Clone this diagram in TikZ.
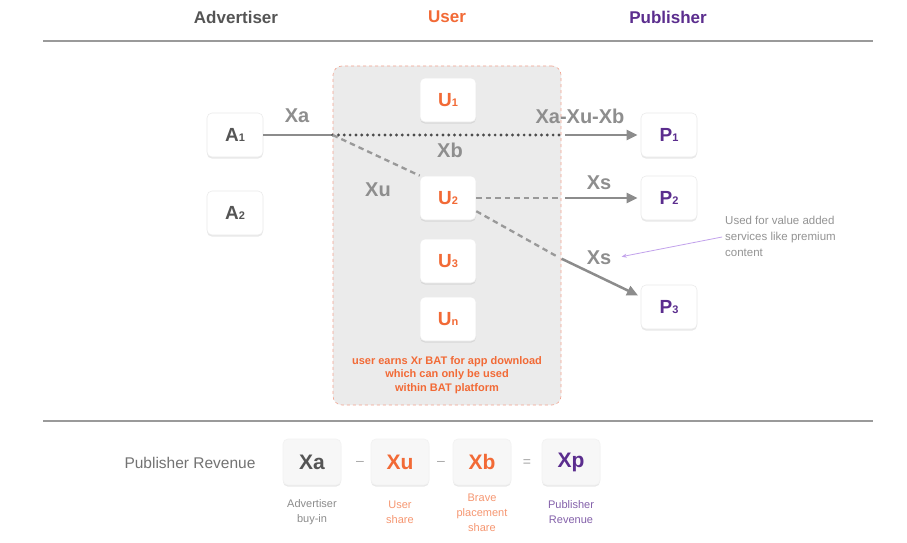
\documentclass[tikz,border=0pt]{standalone}
\usepackage{fontspec}
\setmainfont{Liberation Sans}
\usetikzlibrary{arrows.meta,positioning,shadows}
\definecolor{advc}{HTML}{555555}
\definecolor{usrc}{HTML}{F26A36}
\definecolor{pubc}{HTML}{5B2D8E}
\definecolor{lblc}{HTML}{8E8E8E}
\definecolor{rulec}{HTML}{9A9A9A}
\definecolor{regc}{HTML}{EBEBEB}
\definecolor{regb}{HTML}{F2A490}
\definecolor{notec}{HTML}{C2A2EC}
\newcommand\idx[1]{{\fontsize{11}{11}\selectfont #1}}

\begin{document}
\begin{tikzpicture}[x=1pt,y=-1pt,
					hdr/.style={font=\fontsize{17}{17}\selectfont\bfseries},
					box/.style={fill=white, draw=black!8, line width=0.6pt, rounded corners=5pt, minimum width=56pt, minimum height=44pt, inner sep=0pt,
						font=\fontsize{19}{19}\selectfont\bfseries,
						drop shadow={opacity=0.18, shadow xshift=0pt, shadow yshift=-1.6pt}},
					sbox/.style={box, fill=black!3, draw=black!5, minimum width=58pt, minimum height=46pt, font=\fontsize{21}{21}\selectfont\bfseries},
					lbl/.style={text=lblc, font=\fontsize{20}{20}\selectfont\bfseries},
					capt/.style={align=center, font=\fontsize{11}{15}\selectfont},
					rule/.style={draw=rulec, line width=1.2pt},
					ln/.style={draw=black!45, line width=2.5pt},
					arr/.style={ln, -{Triangle[length=11pt,width=10pt]}, shorten <=4pt, shorten >=3pt},
					dsh/.style={draw=black!40, line width=2.3pt, dash pattern=on 5.5pt off 4pt},
					dots/.style={draw=black!70, line width=3.2pt, line cap=round, dash pattern=on 0pt off 5.8pt}]
				\fill[white] (0,0) rectangle (907,543);
				\useasboundingbox (0,0) rectangle (907,543);
				\node[hdr, text=advc] (ha) at (236,17) {Advertiser};
				\node[hdr, text=usrc] (hu) at (447,17) {User};
				\node[hdr, text=pubc] (hp) at (668,17) {Publisher};
				\draw[rule] (43,41) -- (873,41);
				\draw[rule] (43,421) -- (873,421);
				\node[draw=regb, fill=regc, dashed, line width=0.6pt, rounded corners=9pt, minimum width=228pt, minimum height=339pt] (reg) at (447,235.5) {};
				\node[box, text=advc] (a1) at (235,135) {A\idx{1}};
				\node[box, text=advc] (a2) at (235,213) {A\idx{2}};
				\node[box, text=usrc] (u1) at (448,100) {U\idx{1}};
				\node[box, text=usrc] (u2) at (448,198) {U\idx{2}};
				\node[box, text=usrc] (u3) at (448,261) {U\idx{3}};
				\node[box, text=usrc] (un) at (448,319) {U\idx{n}};
				\node[box, text=pubc] (p1) at (669,135) {P\idx{1}};
				\node[box, text=pubc] (p2) at (669,198) {P\idx{2}};
				\node[box, text=pubc] (p3) at (669,307) {P\idx{3}};
				\node[text=usrc, align=center, font=\fontsize{11}{13.5}\selectfont\bfseries] (earn) at (447,375)
					{user earns Xr BAT for app download\\which can only be used\\within BAT platform};
				\coordinate (j1) at (reg.west |- a1);
				\coordinate (e1) at (reg.east |- a1);
				\coordinate (e2) at (reg.east |- u2);
				\coordinate (e3) at (558,257);
				\draw[ln] (a1) -- (j1);
				\draw[dots] (j1) -- (e1);
				\draw[arr] (e1) -- (p1);
				\draw[dsh] (j1) -- (u2.north west);
				\draw[dsh] (u2) -- (e2);
				\draw[arr] (e2) -- (p2);
				\draw[dsh] (u2.-25) -- (e3);
				\draw[arr] (e3) -- (p3.160);
				\node[lbl] (xa) at (297,116) {Xa};
				\node[lbl] (xb) at (450,150) {Xb};
				\node[lbl] (xu) at (378,190) {Xu};
				\node[lbl] (xr) at (580,116) {Xa-Xu-Xb};
				\node[lbl] (xs1) at (599,183) {Xs};
				\node[lbl] (xs2) at (599,258) {Xs};
				\node[text=black!42, align=left, anchor=north west, inner sep=0pt, font=\fontsize{11.5}{16}\selectfont] (note) at (725,216)
					{Used for value added\\services like premium\\content};
				\draw[notec, line width=0.8pt, -{Stealth[length=5pt,width=4pt]}, shorten <=3pt, shorten >=7pt] (note.west) -- (xs2.east);
				\node[text=black!55, font=\fontsize{15.5}{16}\selectfont] (rev) at (190,463) {Publisher Revenue};
				\node[sbox, text=advc] (ba) at (312,462) {Xa};
				\node[sbox, text=usrc] (bu) at (400,462) {Xu};
				\node[sbox, text=usrc] (bb) at (482,462) {Xb};
				\node[sbox, text=pubc] (bp) at (571,462) {Xp};
				\node[text=black!35, font=\fontsize{14}{14}\selectfont] (m1) at (360,463) {--};
				\node[text=black!35, font=\fontsize{14}{14}\selectfont] (m2) at (441,463) {--};
				\node[text=black!35, font=\fontsize{14}{14}\selectfont] (eq) at (527,463) {=};
				\node[capt, text=black!45] (ca) at ([yshift=-27pt]ba.south) {Advertiser\\buy-in};
				\node[capt, text=usrc!70] (cu) at ([yshift=-27pt]bu.south) {User\\share};
				\node[capt, text=usrc!70] (cb) at ([yshift=-27pt]bb.south) {Brave\\placement\\share};
				\node[capt, text=pubc!75] (cp) at ([yshift=-27pt]bp.south) {Publisher\\Revenue};
			\end{tikzpicture}
\end{document}
